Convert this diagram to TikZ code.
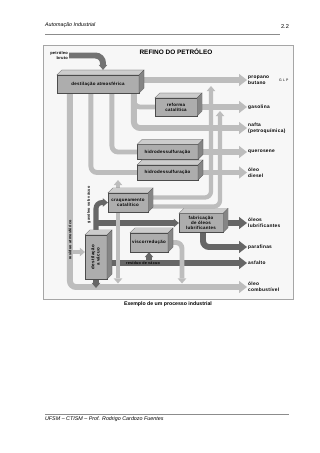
\documentclass[tikz,border=0pt]{standalone}
\usepackage{fontspec}
\setmainfont{Liberation Sans}
\newfontfamily\diagfont[LetterSpace=6]{Liberation Sans}
\usetikzlibrary{arrows.meta, positioning, backgrounds}

\definecolor{pipelight}{gray}{0.74}
\definecolor{pipedark}{gray}{0.40}
\definecolor{crudegray}{gray}{0.45}
\definecolor{boxfront}{gray}{0.68}
\definecolor{boxtop}{gray}{0.80}
\definecolor{boxside}{gray}{0.52}
\definecolor{boxedge}{gray}{0.30}

% top and right faces of a process unit
\newcommand{\unitfaces}[1]{%
  \filldraw[fill=boxtop, draw=boxedge, line width=0.3pt]
    (#1.north west) -- ++(5,-5) -- ([shift={(5,-5)}]#1.north east) -- (#1.north east) -- cycle;
  \filldraw[fill=boxside, draw=boxedge, line width=0.3pt]
    (#1.north east) -- ++(5,-5) -- ([shift={(5,-5)}]#1.south east) -- (#1.south east) -- cycle;
}

\begin{document}
\begin{tikzpicture}[
    x=0.65625mm, y=-0.65625mm,
    unit/.style={
      draw=boxedge,
      fill=boxfront,
      line width=0.3pt,
      inner sep=1pt,
      align=center,
      font=\diagfont\bfseries\fontsize{8.3}{9.5}\selectfont
    },
    product/.style={
      anchor=west,
      inner xsep=2pt,
      inner ysep=0pt,
      align=left,
      font=\diagfont\bfseries\fontsize{9}{10.5}\selectfont
    },
    flowlabel/.style={
      inner sep=0pt,
      font=\diagfont\bfseries\fontsize{7}{8}\selectfont
    },
    pagetext/.style={
      inner sep=0pt,
      font=\fontsize{10}{12}\selectfont
    },
    lightpipe/.style={draw=pipelight, line width=3.9mm, rounded corners=4mm},
    thinpipe/.style={lightpipe, line width=3.2mm},
    darkpipe/.style={draw=pipedark, line width=3.9mm, rounded corners=4mm},
    crudepipe/.style={draw=crudegray, line width=3.9mm, rounded corners=5mm},
    bigtip/.style={-{Triangle[length=5.2mm, width=8mm, line width=0pt]}},
    smalltip/.style={-{Triangle[length=3.3mm, width=5.6mm, line width=0pt]}}
  ]

    \useasboundingbox (0,0) rectangle (320,453);

    % Page header and footer
    \node[pagetext, anchor=west] (header) at (45,25) {\itshape Automação Industrial};
    \node[pagetext, anchor=east, font=\fontsize{10.5}{12}\selectfont] (pagenum) at (289,27) {2.2};
    \node[pagetext, anchor=west] (footer) at (45,419.5) {\itshape UFSM -- CTISM -- Prof. Rodrigo Cardozo Fuentes};
    \node[pagetext, font=\bfseries\fontsize{9.7}{11}\selectfont] (caption) at (168,304) {Exemplo de um processo industrial};

    % Title and crude feed
    \node[inner sep=0pt, font=\bfseries\fontsize{12}{14}\selectfont] (title) at (176,52) {REFINO DO PETRÓLEO};
    \node[flowlabel, align=right, anchor=east, inner xsep=2pt, font=\diagfont\bfseries\fontsize{7.5}{8.5}\selectfont]
      (bruto) at (69,55.5) {petróleo\\bruto};

    % Process units
    \node[unit, minimum width=53.8mm, minimum height=11.8mm] (destatm) at (98,84) {destilação atmosférica};
    \node[unit, minimum width=27.6mm, minimum height=11.8mm] (reforma) at (176,107) {reforma\\catalítica};
    \node[unit, minimum width=40mm, minimum height=9.8mm] (hdsA) at (167.5,152) {hidrodessulfuração};
    \node[unit, minimum width=40mm, minimum height=9.8mm] (hdsB) at (167.5,172.5) {hidrodessulfuração};
    \node[unit, minimum width=26.3mm, minimum height=12.5mm] (craq) at (128,202.5) {craqueamento\\catalítico};
    \node[unit, minimum width=28.9mm, minimum height=12.5mm] (lubfab) at (201,223) {fabricação\\de óleos\\lubrificantes};
    \node[unit, minimum width=24.9mm, minimum height=12.5mm] (visco) at (149,242.5) {viscorredução};
    \node[unit, minimum width=14.4mm, minimum height=28.9mm] (vacuo) at (96,257)
      {\rotatebox{90}{\begin{tabular}{@{}c@{}}destilação\\a vácuo\end{tabular}}};
    \foreach \u in {destatm, reforma, hdsA, hdsB, craq, lubfab, visco, vacuo}
      \unitfaces{\u};

    % Products
    \node[product] (glp) at (247,80) {propano\\butano};
    \node[product, font=\diagfont\fontsize{6.5}{7}\selectfont] (glpnote) at (278,80.5) {G L P};
    \node[product] (gasolina) at (247,107) {gasolina};
    \node[product] (nafta) at (247,128) {nafta\\(petroquímica)};
    \node[product] (querosene) at (247,152) {querosene};
    \node[product] (diesel) at (247,172.5) {óleo\\diesel};
    \node[product] (lubrif) at (247,223) {óleos\\lubrificantes};
    \node[product] (parafinas) at (247,247) {parafinas};
    \node[product] (asfalto) at (247,263) {asfalto};
    \node[product] (combust) at (247,287) {óleo\\combustível};

    % Labels along the pipes
    \node[flowlabel, rotate=90] (resatm) at (70,240) {resíduo atmosférico};
    \node[flowlabel, rotate=90] (gasvac) at (89,205) {gasóleo sob vácuo};
    \node[flowlabel] (resvac) at (143,263) {resíduo de vácuo};

    % Free ends of the pipes
    \coordinate (upA) at (211,86);
    \coordinate (upB) at (220,111);
    \coordinate (viscodrop) at (182,283.5);

    \begin{scope}[on background layer]
      \fill[white] (0,0) rectangle (320,453);
      \draw[black!45, line width=0.4pt] (45,34) -- (280,34);
      \draw[black!45, line width=0.4pt] (45,414) -- (289,414);
      \draw[draw=black!35, fill=black!3, line width=0.8pt] (43,45) rectangle (293,299);

      % Atmospheric distillation streams
      \draw[lightpipe, bigtip] (destatm.east |- glp.west) -- (glp.west);
      \draw[lightpipe, bigtip] ([shift={(13,0)}]destatm.south west) |- (combust.west);
      \draw[thinpipe] ([shift={(34,0)}]destatm.south west) |- (hdsB.west);
      \draw[thinpipe] ([shift={(55,0)}]destatm.south west) |- (hdsA.west);
      \draw[thinpipe] ([shift={(77,0)}]destatm.south west) |- (reforma.west);
      \draw[lightpipe, bigtip] ([shift={(77,0)}]destatm.south west) |- (nafta.west);
      \draw[lightpipe, bigtip] (reforma.east) -- (gasolina.west);
      \draw[lightpipe, bigtip] (hdsA.east) -- (querosene.west);
      \draw[lightpipe, bigtip] (hdsB.east) -- (diesel.west);

      % Vacuum section
      \draw[thinpipe, smalltip] ([shift={(0,-5)}]vacuo.west -| resatm) -- ([shift={(0,-5)}]vacuo.west);
      \draw[darkpipe, line width=3.3mm, smalltip] (vacuo.north) |- (craq.west);
      \draw[darkpipe, line width=3.3mm, smalltip] (vacuo.north |- lubfab.west) -- (lubfab.west);
      \draw[darkpipe, bigtip] (vacuo.east |- asfalto.west) -- (asfalto.west);
      \draw[darkpipe, line width=3.3mm, smalltip] (visco.south |- asfalto.west) -- (visco.south);
      \draw[darkpipe, line width=3.3mm, smalltip] (vacuo.south) -- ([shift={(0,1)}]vacuo.south |- combust.west);
      \draw[darkpipe, bigtip] (lubfab.east) -- (lubrif.west);
      \draw[darkpipe, bigtip] ([shift={(2,0)}]lubfab.south) |- (parafinas.west);
      \draw[thinpipe, smalltip] (visco.east) -| (viscodrop);

      % Cracking products
      \draw[thinpipe, line width=2.8mm, smalltip] ([shift={(-10,0)}]craq.north) -- ([shift={(-10,0)}]craq.north |- hdsB.south);
      \draw[thinpipe, line width=2.8mm, smalltip] ([shift={(-10,0)}]craq.south) -- ([shift={(-10,-3.5)}]craq.south |- combust.west);
      \draw[thinpipe, line width=2.8mm, smalltip] ([shift={(0,-5)}]craq.east) -| (upA);
      \draw[thinpipe, line width=2.8mm, smalltip] ([shift={(0,4)}]craq.east) -| (upB);
    \end{scope}

    \draw[crudepipe, smalltip] (bruto.east) -| ([shift={(5,-5)}]destatm.north);

  \end{tikzpicture}
\end{document}
